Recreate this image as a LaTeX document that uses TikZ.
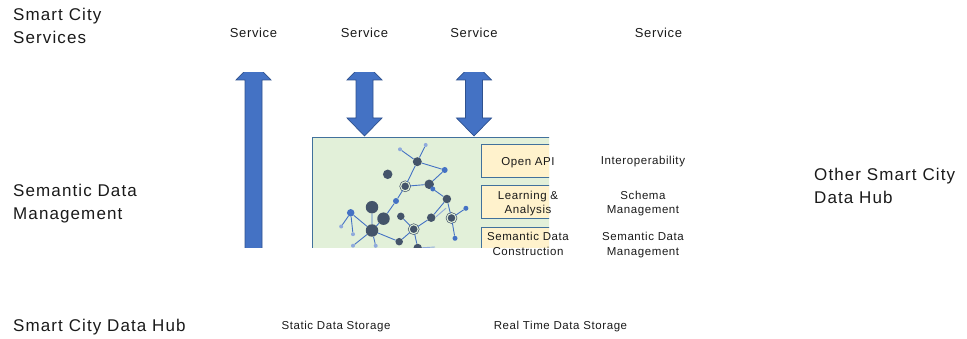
\documentclass[tikz,border=0pt]{standalone}
\usepackage{fontspec}
\setmainfont{Liberation Sans}
\newfontfamily\bigfont{Liberation Sans}[LetterSpace=6.5]
\newfontfamily\svcfont{Liberation Sans}[LetterSpace=5]
\newfontfamily\smfont{Liberation Sans}[LetterSpace=5]

\definecolor{arrowblue}{HTML}{4472C4}
\definecolor{arrowedge}{HTML}{2F528F}
\definecolor{panelgreen}{HTML}{E2F0D9}
\definecolor{paneledge}{HTML}{41719C}
\definecolor{cream}{HTML}{FFF2CC}
\definecolor{dotdark}{HTML}{44546A}
\definecolor{dotblue}{HTML}{4472C4}
\definecolor{dotlight}{HTML}{8FAADC}
\definecolor{inkgray}{HTML}{1A1A1A}

\begin{document}
\begin{tikzpicture}[x=1pt,y=-1pt,
  biglabel/.style={font=\bigfont\fontsize{17}{23}\selectfont, text=inkgray, align=left, anchor=base west, inner sep=0pt},
  svclabel/.style={font=\svcfont\fontsize{13}{15}\selectfont, text=inkgray, anchor=base, inner sep=0pt},
  smlabel/.style={font=\smfont\fontsize{11.5}{14.3}\selectfont, text=inkgray, align=center, anchor=base, inner sep=0pt},
  bigarrow/.style={fill=arrowblue, draw=arrowedge, line width=0.7pt, line join=miter},
  bond/.style={draw=dotblue, line width=0.9pt},
  faintbond/.style={draw=dotlight, line width=0.9pt},
  atom/.style={circle, inner sep=0pt, minimum size=#1},
  darkatom/.style={atom=#1, fill=dotdark},
  blueatom/.style={atom=#1, fill=dotblue},
  lightatom/.style={atom=4pt, fill=dotlight},
  ringatom/.style={atom=9pt, fill=dotdark, draw=dotdark, double=panelgreen, double distance=1.1pt, line width=0.65pt},
]
\useasboundingbox (0,0) rectangle (967,339);

% ---- row labels ----
\node[biglabel] (lblservices) at (13,43.7) {Smart City\\Services};
\node[biglabel] (lblsemantic) at (13,219.7) {Semantic Data\\Management};
\node[biglabel] (lblhub) at (13,331.7) {Smart City Data Hub};
\node[biglabel] (lblother) at (814,203.7) {Other Smart City\\Data Hub};

% ---- services ----
\node[svclabel] (svc1) at (253.5,37.3) {Service};
\node[svclabel] (svc2) at (364.5,37.3) {Service};
\node[svclabel] (svc3) at (474,37.3) {Service};
\node[svclabel] (svc4) at (658.5,37.3) {Service};

% ---- block arrows ----
\begin{scope}
  \clip (0,73) rectangle (967,248);
  \path[bigarrow] (253.5,62) -- (271,80) -- (262,80) -- (262,300) -- (245,300)
        -- (245,80) -- (236,80) -- cycle;
  \path[bigarrow] (364.5,62) -- (382,80) -- (373,80) -- (373,118) -- (382,118)
        -- (364.5,136) -- (347,118) -- (356,118) -- (356,80) -- (347,80) -- cycle;
  \path[bigarrow] (474,62) -- (491.5,80) -- (482.5,80) -- (482.5,118) -- (491.5,118)
        -- (474,136) -- (456.5,118) -- (465.5,118) -- (465.5,80) -- (456.5,80) -- cycle;
\end{scope}

% ---- semantic data panel ----
\begin{scope}
  \clip (311.5,136.5) rectangle (549,248);
  \path[fill=panelgreen, draw=paneledge, line width=0.7pt] (312,137) rectangle (570,270);
  \path[fill=cream, draw=paneledge, line width=0.7pt] (481,144) rectangle (570,177);
  \path[fill=cream, draw=paneledge, line width=0.7pt] (481,185) rectangle (570,218);
  \path[fill=cream, draw=paneledge, line width=0.7pt] (481,227) rectangle (570,270);

  % network graphic
  \node[lightatom] (a1) at (400,149.3) {};
  \node[lightatom] (a2) at (425.7,145) {};
  \node[darkatom=9pt] (a3) at (417.3,161.7) {};
  \node[blueatom=6pt] (a4) at (444.7,170) {};
  \node[darkatom=9.5pt] (a5) at (387.7,174.3) {};
  \node[ringatom] (a6) at (405.2,186.3) {};
  \node[darkatom=9.5pt] (a7) at (429.2,184.3) {};
  \node[blueatom=5pt] (a8) at (432.8,189) {};
  \node[blueatom=6pt] (a9) at (396,201) {};
  \node[darkatom=8.5pt] (a10) at (446.9,199) {};
  \node[blueatom=5pt] (a11) at (465.9,208.3) {};
  \node[ringatom] (a12) at (451.5,218) {};
  \node[darkatom=12.5pt] (a13) at (372,207.2) {};
  \node[darkatom=12.5pt] (a14) at (383.5,218.7) {};
  \node[blueatom=7.5pt] (a15) at (350.7,212.8) {};
  \node[darkatom=7.5pt] (a16) at (400.8,216.3) {};
  \node[darkatom=8.5pt] (a17) at (431.2,217.7) {};
  \node[ringatom] (a18) at (413.7,229.2) {};
  \node[darkatom=12.5pt] (a19) at (372,230.5) {};
  \node[lightatom] (a20) at (341.2,226.5) {};
  \node[lightatom] (a21) at (353,234.2) {};
  \node[lightatom] (a22) at (353,245.7) {};
  \node[lightatom] (a23) at (375.7,245.8) {};
  \node[darkatom=7.5pt] (a24) at (399.2,241.7) {};
  \node[darkatom=8.5pt] (a25) at (417.7,248) {};
  \node[blueatom=5pt] (a26) at (455,238.3) {};
  \coordinate (t1) at (435,247);
  \coordinate (f1) at (436,216.8);
  \coordinate (f2) at (446,208.2);

  \path[bond] (a1) -- (a3) (a2) -- (a3) (a3) -- (a4) (a3) -- (a6)
    (a4) -- (a7) (a6) -- (a7) (a7) -- (a8) (a8) -- (a10)
    (a6) -- (a9) (a9) -- (a14)
    (a10) -- (a17) (a10) -- (a12) (a12) -- (a11) (a12) -- (a26)
    (a17) -- (a18) (a16) -- (a18) (a18) -- (a24) (a18) -- (a25)
    (a19) -- (a15) (a19) -- (a13) (a19) -- (a14) (a19) -- (a22)
    (a19) -- (a23) (a19) -- (a24)
    (a15) -- (a20) (a15) -- (a21);
  \path[faintbond] (a25) -- (t1) (f1) -- (f2);
\end{scope}

% ---- function boxes and their roles ----
\node[smlabel] (fopen) at (528,165.5) {Open API};
\node[smlabel] (flearn) at (528,213.8) {Learning \&\\Analysis};
\node[smlabel] (fconstr) at (528,255.3) {Semantic Data\\Construction};
\node[smlabel] (rinter) at (643,164.5) {Interoperability};
\node[smlabel] (rschema) at (643,213.7) {Schema\\Management};
\node[smlabel] (rsemdm) at (643,255.3) {Semantic Data\\Management};

% ---- storage ----
\node[smlabel] (static) at (336,329.5) {Static Data Storage};
\node[smlabel] (realtime) at (560.5,329.5) {Real Time Data Storage};
\end{tikzpicture}
\end{document}
